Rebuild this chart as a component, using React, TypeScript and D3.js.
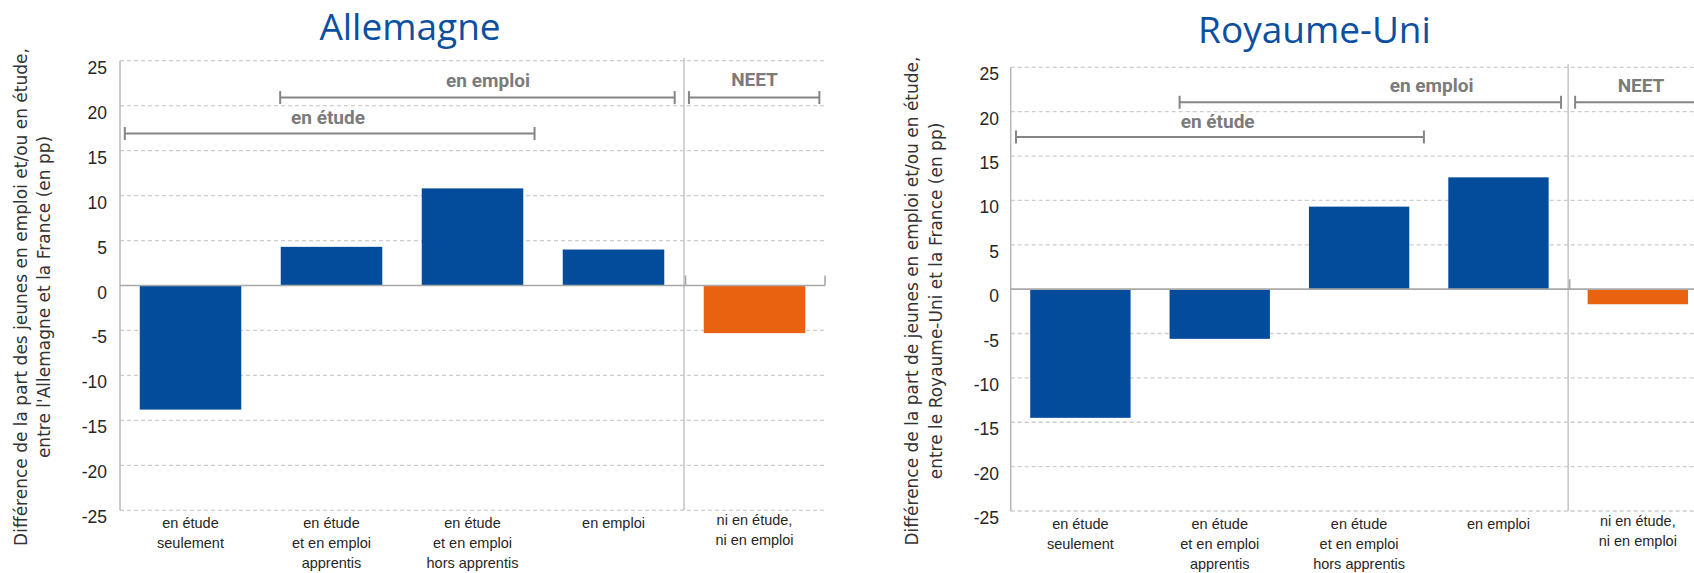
import React from "react";
import * as d3 from "d3";

// ---------- data ----------
const categoryLabels: string[][] = [
  ["en étude", "seulement"],
  ["en étude", "et en emploi", "apprentis"],
  ["en étude", "et en emploi", "hors apprentis"],
  ["en emploi"],
  ["ni en étude,", "ni en emploi"],
];
const categoryGroups = ["actif", "actif", "actif", "actif", "neet"];
const allemagneValues = [-13.8, 4.3, 10.8, 4.0, -5.3];
const royaumeUniValues = [-14.5, -5.6, 9.3, 12.6, -1.7];
const yTicks = [-25, -20, -15, -10, -5, 0, 5, 10, 15, 20, 25];
const titles = ["Allemagne", "Royaume-Uni"];
const yLabelsAllemagne = [
  "Différence de la part des jeunes en emploi et/ou en étude,",
  "entre l'Allemagne et la France (en pp)",
];
const yLabelsRoyaumeUni = [
  "Différence de la part de jeunes en emploi et/ou en étude,",
  "entre le Royaume-Uni et la France (en pp)",
];
const bracketNames = ["en étude", "en emploi", "NEET"];

// ---------- styles ----------
const BLUE = "#024c9b";
const ORANGE = "#e8620f";
const GREY_TXT = "#7b7b7b";
const TICK_FONT = "'Liberation Sans', Arial, sans-serif";

type Bracket = { name: string; from: number; to: number; y: number; lx: number; ly: number };
type ChartCfg = {
  title: string;
  titleX: number;
  titleY: number;
  values: number[];
  yLabels: string[];
  yLabelX: number[];
  yLabelCY: number;
  x0: number;
  x1: number;
  yTop: number;
  yBottom: number;
  tickRight: number;
  catY: number;
  neetCatY: number;
  brackets: Bracket[];
};

const charts: ChartCfg[] = [
  {
    title: titles[0],
    titleX: 410,
    titleY: 40,
    values: allemagneValues,
    yLabels: yLabelsAllemagne,
    yLabelX: [20.5, 44],
    yLabelCY: 297,
    x0: 120,
    x1: 825,
    yTop: 60.7,
    yBottom: 510.3,
    tickRight: 107,
    catY: 527.5,
    neetCatY: 525,
    brackets: [
      { name: bracketNames[0], from: 0.034, to: 2.94, y: 16.9, lx: 1.475, ly: 18.7 },
      { name: bracketNames[1], from: 1.136, to: 3.934, y: 20.9, lx: 2.61, ly: 22.8 },
      { name: bracketNames[2], from: 4.035, to: 4.96, y: 20.9, lx: 4.5, ly: 22.95 },
    ],
  },
  {
    title: titles[1],
    titleX: 1314.5,
    titleY: 43,
    values: royaumeUniValues,
    yLabels: yLabelsRoyaumeUni,
    yLabelX: [912, 936],
    yLabelCY: 301,
    x0: 1010.7,
    x1: 1707.5,
    yTop: 67.3,
    yBottom: 511,
    tickRight: 999,
    catY: 528.5,
    neetCatY: 526,
    brackets: [
      { name: bracketNames[0], from: 0.038, to: 2.965, y: 17.15, lx: 1.485, ly: 18.9 },
      { name: bracketNames[1], from: 1.212, to: 3.949, y: 21.06, lx: 3.02, ly: 22.9 },
      { name: bracketNames[2], from: 4.05, to: 4.96, y: 21.06, lx: 4.523, ly: 22.9 },
    ],
  },
];

function Chart({ c }: { c: ChartCfg }) {
  const x = d3
    .scaleBand<number>()
    .domain(d3.range(categoryLabels.length))
    .range([c.x0, c.x1])
    .paddingInner(0.28)
    .paddingOuter(0.14);
  const y = d3.scaleLinear().domain([-25, 25]).range([c.yBottom, c.yTop]);
  const step = x.step();
  const sx = (s: number) => c.x0 + s * step;
  const sepX = sx(4);
  const y0 = y(0);

  return (
    <g>
      <text
        x={c.titleX}
        y={c.titleY}
        textAnchor="middle"
        fontFamily="'Open Sans', sans-serif"
        fontSize={37}
        fill="#0b4f9f"
      >
        {c.title}
      </text>

      {/* y axis title */}
      {c.yLabels.map((t, i) => (
        <text
          key={i}
          transform={`translate(${c.yLabelX[i]},${c.yLabelCY}) rotate(-90)`}
          textAnchor="middle"
          dominantBaseline="central"
          fontFamily="'DejaVu Sans', Verdana, sans-serif"
          fontSize={17}
          fill="#333"
        >
          {t}
        </text>
      ))}

      {/* gridlines */}
      {yTicks
        .filter((t) => t !== 0)
        .map((t) => (
          <line
            key={t}
            x1={c.x0}
            x2={c.x1}
            y1={y(t)}
            y2={y(t)}
            stroke="#cdcdcd"
            strokeWidth={1.3}
            strokeDasharray="4 3"
          />
        ))}

      {/* tick labels */}
      {yTicks.map((t) => (
        <text
          key={t}
          x={c.tickRight}
          y={y(t) + 13}
          textAnchor="end"
          fontFamily={TICK_FONT}
          fontSize={17.5}
          fill="#262626"
        >
          {t}
        </text>
      ))}

      {/* y axis line */}
      <line x1={c.x0} x2={c.x0} y1={c.yTop} y2={c.yBottom} stroke="#b8b8b8" strokeWidth={1.5} />
      {/* separator */}
      <line x1={sepX} x2={sepX} y1={c.yTop - 3} y2={c.yBottom} stroke="#c4c4c4" strokeWidth={1.5} />

      {/* bars */}
      {c.values.map((v, i) => (
        <rect
          key={i}
          x={x(i)}
          width={x.bandwidth()}
          y={Math.min(y(v), y0)}
          height={Math.abs(y(v) - y0)}
          fill={categoryGroups[i] === "neet" ? ORANGE : BLUE}
        />
      ))}

      {/* zero line + category ticks */}
      <line x1={c.x0} x2={c.x1} y1={y0} y2={y0} stroke="#a8a8a8" strokeWidth={1.6} />
      {[4, 5].map((s) => (
        <line
          key={s}
          x1={sx(s) + (s === 4 ? 1.5 : 0)}
          x2={sx(s) + (s === 4 ? 1.5 : 0)}
          y1={y0}
          y2={y0 - 10}
          stroke="#a8a8a8"
          strokeWidth={1.6}
        />
      ))}

      {/* category labels */}
      {categoryLabels.map((lines, i) => (
        <text
          key={i}
          x={(x(i) as number) + x.bandwidth() / 2}
          y={categoryGroups[i] === "neet" ? c.neetCatY : c.catY}
          textAnchor="middle"
          fontFamily={TICK_FONT}
          fontSize={14.5}
          fill="#262626"
        >
          {lines.map((l, j) => (
            <tspan key={j} x={(x(i) as number) + x.bandwidth() / 2} dy={j === 0 ? 0 : 20}>
              {l}
            </tspan>
          ))}
        </text>
      ))}

      {/* brackets */}
      {c.brackets.map((b, i) => {
        const by = y(b.y);
        const xa = sx(b.from);
        const xb = sx(b.to);
        return (
          <g key={i}>
            <line x1={xa} x2={xb} y1={by} y2={by} stroke="#858585" strokeWidth={2} />
            <line x1={xa} x2={xa} y1={by - 6.5} y2={by + 6.5} stroke="#858585" strokeWidth={2} />
            <line x1={xb} x2={xb} y1={by - 6.5} y2={by + 6.5} stroke="#858585" strokeWidth={2} />
            <text
              x={sx(b.lx)}
              y={y(b.ly)}
              textAnchor="middle"
              dominantBaseline="central"
              fontFamily="Roboto, sans-serif"
              fontWeight={700}
              fontSize={19}
              fill={GREY_TXT}
            >
              {b.name}
            </text>
          </g>
        );
      })}
    </g>
  );
}

export default function App() {
  return (
    <svg
      width={1694}
      height={573}
      style={{ position: "absolute", left: 0, top: 0, background: "#fff" }}
    >
      <rect width={1694} height={573} fill="#fff" />
      {charts.map((c, i) => (
        <Chart key={i} c={c} />
      ))}
    </svg>
  );
}
